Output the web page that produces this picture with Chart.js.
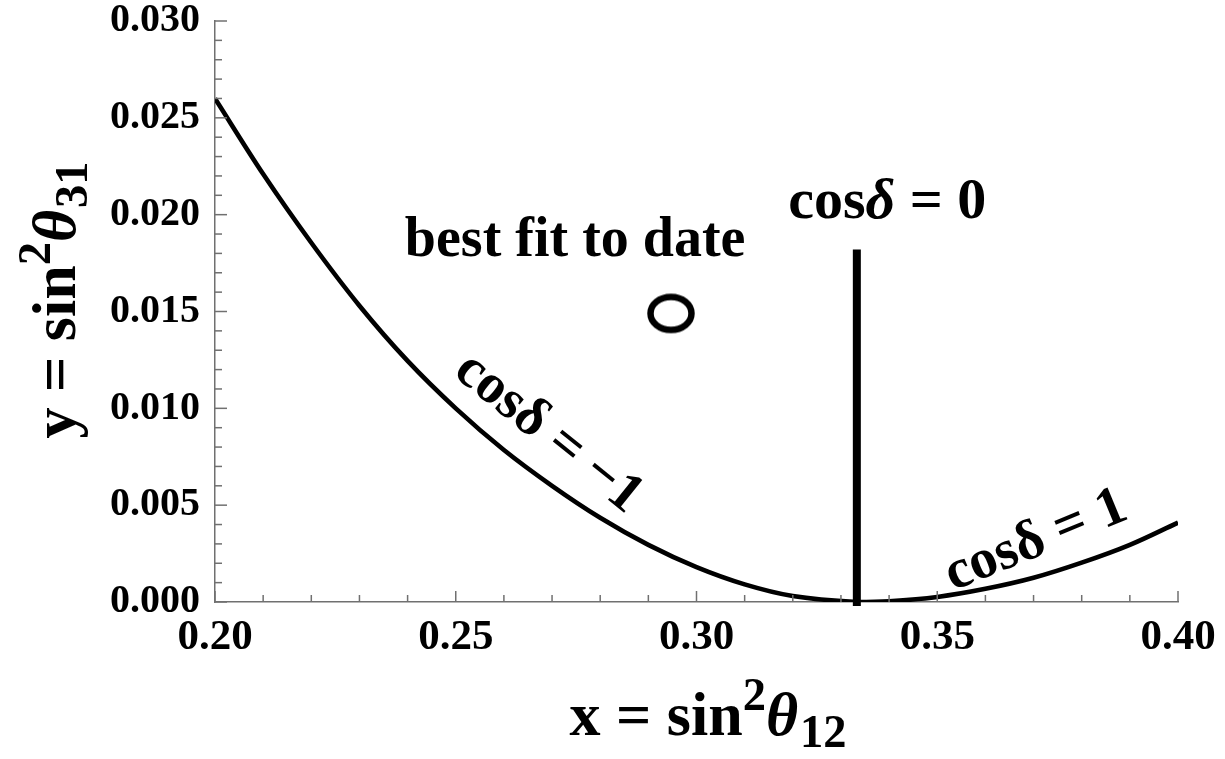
<!DOCTYPE html>
<html>
<head>
<meta charset="utf-8">
<script src="https://cdn.jsdelivr.net/npm/chart.js@4/dist/chart.umd.min.js"></script>
<style>
html,body{margin:0;padding:0;background:#fff;}
#wrap{width:1225px;height:759px;position:relative;}
</style>
</head>
<body>
<div id="wrap"><canvas id="c" width="1225" height="759"></canvas></div>
<script>
// ---- data ----
const curveX = [0.20,0.21,0.22,0.23,0.24,0.25,0.26,0.27,0.28,0.29,0.30,0.31,0.32,0.3333,0.34,0.35,0.36,0.37,0.38,0.39,0.40];
const curveY = [0.0260,0.0221,0.01855,0.0153,0.01245,0.0100,0.00785,0.0060,0.00435,0.00295,0.0018,0.00091,0.00031,0.0,0.00004,0.00026,0.00068,0.00125,0.00203,0.00295,0.0041];
const cosZeroX = [0.3333, 0.3333];
const cosZeroY = [0.0, 0.018];
const bestFitX = [0.2947];
const bestFitY = [0.0149];
const xTicks = [0.20,0.25,0.30,0.35,0.40];
const yTicks = [0.000,0.005,0.010,0.015,0.020,0.025,0.030];

const FONT = '"Liberation Serif","Times New Roman",serif';
const AXIS_GRAY = '#707070';

// ellipse marker for best fit
const marker = document.createElement('canvas');
marker.width = 54; marker.height = 46;
(function(){
  const m = marker.getContext('2d');
  m.lineWidth = 6.5; m.strokeStyle = '#000';
  m.beginPath(); m.ellipse(27, 23, 20.5, 16.5, 0, 0, Math.PI*2); m.stroke();
})();

function drawRich(ctx, parts, size, align) {
  let total = 0;
  const widths = parts.map(p => {
    const s = size * (p.s || 1);
    ctx.font = (p.i ? 'italic ' : '') + 'bold ' + s + 'px ' + FONT;
    const w = ctx.measureText(p.t).width + (p.gap || 0) * size;
    total += w;
    return w;
  });
  let x = align === 'center' ? -total/2 : 0;
  parts.forEach((p, k) => {
    const s = size * (p.s || 1);
    ctx.font = (p.i ? 'italic ' : '') + 'bold ' + s + 'px ' + FONT;
    ctx.fillText(p.t, x, (p.dy || 0) * size);
    x += widths[k];
  });
}

const decor = {
  id: 'decor',
  afterDraw(chart) {
    const ctx = chart.ctx;
    const xs = chart.scales.x, ys = chart.scales.y;
    const a = chart.chartArea;
    ctx.save();
    // inward ticks
    ctx.strokeStyle = AXIS_GRAY; ctx.lineWidth = 1.5;
    for (let i = 0; i <= 20; i++) {
      const v = 0.20 + i * 0.01;
      const px = xs.getPixelForValue(v);
      const len = (i % 5 === 0) ? 11 : 7;
      ctx.beginPath(); ctx.moveTo(px, a.bottom); ctx.lineTo(px, a.bottom - len); ctx.stroke();
    }
    for (let i = 0; i <= 30; i++) {
      const v = i * 0.001;
      const py = ys.getPixelForValue(v);
      const len = (i % 5 === 0) ? 12 : 7;
      ctx.beginPath(); ctx.moveTo(a.left, py); ctx.lineTo(a.left + len, py); ctx.stroke();
    }
    ctx.fillStyle = '#000';
    ctx.textBaseline = 'alphabetic';
    // x axis title
    ctx.save();
    ctx.translate(708, 735);
    drawRich(ctx, [{t:'x = sin'},{t:'2', s:0.75, dy:-0.4},{t:'θ', i:true, gap:0.03},{t:'12', s:0.75, dy:0.2}], 62, 'center');
    ctx.restore();
    // y axis title
    ctx.save();
    ctx.translate(75, 300);
    ctx.rotate(-Math.PI/2);
    drawRich(ctx, [{t:'y = sin'},{t:'2', s:0.75, dy:-0.4},{t:'θ', i:true, gap:0.03},{t:'31', s:0.75, dy:0.2}], 62, 'center');
    ctx.restore();
    // best fit label
    ctx.save();
    ctx.translate(xs.getPixelForValue(0.2748), ys.getPixelForValue(0.01784));
    drawRich(ctx, [{t:'best fit to date'}], 56, 'center');
    ctx.restore();
    // cos delta = 0
    ctx.save();
    ctx.translate(xs.getPixelForValue(0.3396), ys.getPixelForValue(0.01985));
    drawRich(ctx, [{t:'cos'},{t:'δ', i:true},{t:' = 0'}], 58, 'center');
    ctx.restore();
    // cos delta = -1 (rotated)
    ctx.save();
    ctx.textBaseline = 'middle';
    ctx.translate(xs.getPixelForValue(0.2692), ys.getPixelForValue(0.00871));
    ctx.rotate(38.8 * Math.PI / 180);
    drawRich(ctx, [{t:'cosδ = \u22121'}], 56, 'center');
    ctx.restore();
    // cos delta = 1 (rotated)
    ctx.save();
    ctx.textBaseline = 'middle';
    ctx.translate(xs.getPixelForValue(0.3705), ys.getPixelForValue(0.00314));
    ctx.rotate(-22.4 * Math.PI / 180);
    drawRich(ctx, [{t:'cosδ = 1'}], 56, 'center');
    ctx.restore();
    ctx.restore();
  }
};

new Chart(document.getElementById('c'), {
  type: 'scatter',
  data: {
    datasets: [
      {
        label: 'curve',
        data: curveX.map((x, i) => ({x, y: curveY[i]})),
        showLine: true, borderColor: '#000', borderWidth: 4.6,
        pointRadius: 0, tension: 0.35, fill: false
      },
      {
        label: 'cosδ = 0',
        data: cosZeroX.map((x, i) => ({x, y: cosZeroY[i]})),
        showLine: true, borderColor: '#000', borderWidth: 8,
        borderCapStyle: 'square',
        pointRadius: 0, clip: false
      },
      {
        label: 'best fit',
        data: bestFitX.map((x, i) => ({x, y: bestFitY[i]})),
        pointStyle: marker, pointRadius: 20
      }
    ]
  },
  options: {
    responsive: false,
    animation: false,
    devicePixelRatio: 1,
    layout: { padding: { left: 0, right: 47, top: 20, bottom: 0 } },
    plugins: { legend: { display: false }, tooltip: { enabled: false } },
    scales: {
      x: {
        type: 'linear', min: 0.20, max: 0.40,
        afterBuildTicks(s) { s.ticks = xTicks.map(v => ({value: v})); },
        afterFit(s) { s.height = 157; s.paddingLeft = 0; s.paddingRight = 0; },
        grid: { display: false, drawTicks: false },
        border: { display: true, color: AXIS_GRAY, width: 1.5 },
        ticks: {
          padding: 10, color: '#000', maxRotation: 0,
          font: { family: FONT, size: 43, weight: 'bold' },
          callback: v => Number(v).toFixed(2)
        }
      },
      y: {
        type: 'linear', min: 0, max: 0.030,
        afterBuildTicks(s) { s.ticks = yTicks.map(v => ({value: v})); },
        afterFit(s) { s.width = 215; s.paddingTop = 0; s.paddingBottom = 0; },
        grid: { display: false, drawTicks: false },
        border: { display: true, color: AXIS_GRAY, width: 1.5 },
        ticks: {
          padding: 15, color: '#000',
          font: { family: FONT, size: 40, weight: 'bold' },
          callback: v => Number(v).toFixed(3)
        }
      }
    }
  },
  plugins: [decor]
});
</script>
</body>
</html>
